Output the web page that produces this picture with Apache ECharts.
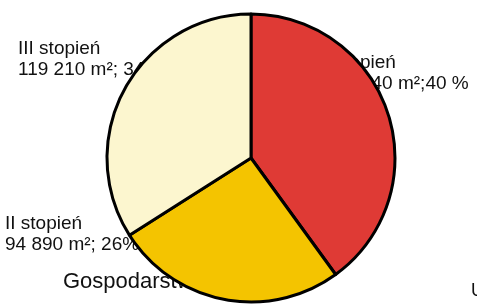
<!DOCTYPE html>
<html>
<head>
<meta charset="utf-8">
<script src="https://cdn.jsdelivr.net/npm/echarts@6/dist/echarts.min.js"></script>
<style>
  html, body { margin: 0; padding: 0; background: #fff; }
  #chart { width: 477px; height: 304px; }
</style>
</head>
<body>
<div id="chart"></div>
<script>
// data
const stopnie = ['I stopień', 'II stopień', 'III stopień'];
const powierzchnia = ['142 740', '94 890', '119 210'];
const procenty = [40, 26, 34];
const procentTekst = ['40 %', ' 26%', ' 34%'];
const kolory = ['#df3a35', '#f4c400', '#fcf6cf'];

const chart = echarts.init(document.getElementById('chart'));

// where each label sits (left, top) — labels lie under the pie
const labelPos = [
  [324, 52],
  [5, 213],
  [18, 38]
];

const pieData = stopnie.map((name, i) => ({
  name,
  value: procenty[i],
  itemStyle: { color: kolory[i] }
}));

chart.setOption({
  animation: false,
  title: [
    {
      text: 'Gospodarstwa w powiecie',
      left: 63,
      top: 271,
      padding: 0,
      z: 0,
      textStyle: {
        fontFamily: 'Liberation Sans',
        fontSize: 22,
        fontWeight: 'normal',
        color: '#111'
      }
    },
    {
      text: 'Udział',
      left: 471,
      top: 282,
      padding: 0,
      z: 0,
      textStyle: {
        fontFamily: 'Liberation Sans',
        fontSize: 18,
        fontWeight: 'normal',
        color: '#111'
      }
    }
  ],
  series: [
    {
      // label carrier, drawn beneath the real pie
      type: 'pie',
      z: 1,
      center: [251, 158],
      radius: 144,
      silent: true,
      avoidLabelOverlap: false,
      data: pieData.map(d => ({
        name: d.name,
        value: d.value,
        itemStyle: { color: 'rgba(0,0,0,0)', borderWidth: 0 }
      })),
      label: {
        show: true,
        position: 'outside',
        overflow: 'none',
        fontFamily: 'Liberation Sans',
        fontSize: 19,
        lineHeight: 21,
        color: '#111',
        formatter: p =>
          p.name + '\n' + powierzchnia[p.dataIndex] + ' m²;' + procentTekst[p.dataIndex]
      },
      labelLine: { show: false },
      labelLayout: p => ({
        x: labelPos[p.dataIndex][0],
        y: labelPos[p.dataIndex][1],
        align: 'left',
        verticalAlign: 'top',
        hideOverlap: false
      })
    },
    {
      type: 'pie',
      z: 2,
      center: [251, 158],
      radius: 144,
      startAngle: 90,
      clockwise: true,
      data: pieData,
      label: { show: false },
      labelLine: { show: false },
      itemStyle: { borderColor: '#000', borderWidth: 3 },
      emphasis: { disabled: true }
    }
  ]
});
</script>
</body>
</html>
